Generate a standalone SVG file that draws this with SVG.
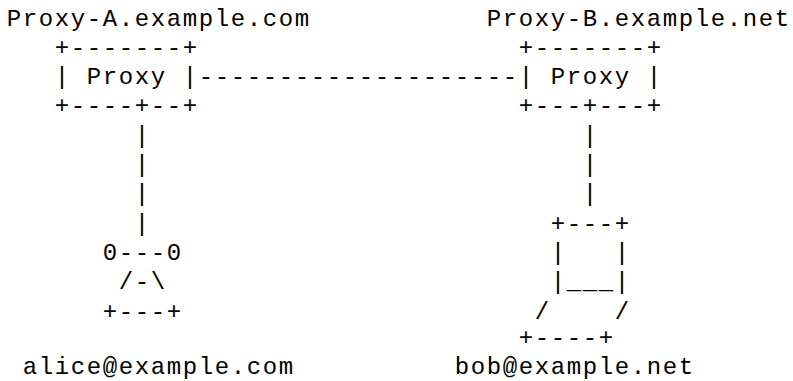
<svg xmlns="http://www.w3.org/2000/svg" width="793" height="381" viewBox="0 0 793 381" xml:space="preserve">
<style>
  text { font-family: "Liberation Mono", "DejaVu Sans Mono", monospace; font-size: 24px; letter-spacing: 1.6px; fill: #000; white-space: pre; }
</style>
<rect width="793" height="381" fill="#fff"/>
<g id="proxy-a">
  <text x="6.8" y="25.5">Proxy-A.example.com</text>
  <text x="54.8" y="54.8">+-------+</text>
  <text x="54.8" y="84.1">| Proxy |</text>
  <text x="54.8" y="113.4">+----+--+</text>
</g>
<g id="proxy-b">
  <text x="486.8" y="25.5">Proxy-B.example.net</text>
  <text x="518.8" y="54.8">+-------+</text>
  <text x="518.8" y="84.1">| Proxy |</text>
  <text x="518.8" y="113.4">+---+---+</text>
</g>
<g id="alice">
  <text x="102.8" y="259.9">0---0</text>
  <text x="118.8" y="289.2">/-\</text>
  <text x="102.8" y="318.5">+---+</text>
  <text x="22.8" y="374">alice@example.com</text>
</g>
<g id="bob">
  <text x="550.8" y="230.6">+---+</text>
  <text x="550.8" y="259.9">|   |</text>
  <text x="550.8" y="289.2">|___|</text>
  <text x="534.8" y="318.5">/    /</text>
  <text x="518.8" y="345">+----+</text>
  <text x="454.8" y="374">bob@example.net</text>
</g>
<g id="connectors">
  <text x="198.8" y="84.1">--------------------</text>
  <text x="134.8" y="142.7">|</text>
  <text x="134.8" y="172">|</text>
  <text x="134.8" y="201.3">|</text>
  <text x="134.8" y="230.6">|</text>
  <text x="582.8" y="142.7">|</text>
  <text x="582.8" y="172">|</text>
  <text x="582.8" y="201.3">|</text>
</g>
</svg>
